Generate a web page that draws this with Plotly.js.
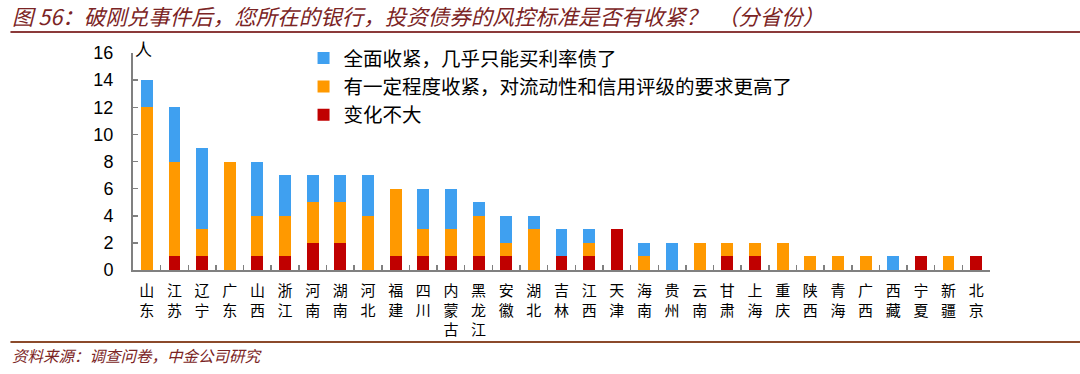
<!DOCTYPE html>
<html>
<head>
<meta charset="utf-8">
<script src="https://cdn.plot.ly/plotly-3.0.1.min.js"></script>
<style>
  html, body { margin: 0; padding: 0; background: #ffffff; }
  #chart { width: 1080px; height: 374px; }
</style>
</head>
<body>
<div id="chart"></div>
<script>
const provinces = ["山东","江苏","辽宁","广东","山西","浙江","河南","湖南","河北","福建","四川","内蒙古","黑龙江","安徽","湖北","吉林","江西","天津","海南","贵州","云南","甘肃","上海","重庆","陕西","青海","广西","西藏","宁夏","新疆","北京"];
const fullTight = [2,4,6,0,4,3,2,2,3,0,3,3,1,2,1,2,1,0,1,2,0,0,0,0,0,0,0,1,0,0,0];
const someTight = [12,7,2,8,3,3,3,3,4,5,2,2,3,1,3,0,1,0,1,0,2,1,1,2,1,1,1,0,0,1,0];
const noChange  = [0,1,1,0,1,1,2,2,0,1,1,1,1,1,0,1,1,3,0,0,0,1,1,0,0,0,0,0,1,0,1];
const seriesNames = ["全面收紧，几乎只能买利率债了", "有一定程度收紧，对流动性和信用评级的要求更高了", "变化不大"];
const yTicks = [0,2,4,6,8,10,12,14,16];

const tickText = provinces.map(p => Array.from(p).join("<br>"));
const cjk = "'Noto Sans CJK SC', 'Noto Sans', sans-serif";

const traces = [
  {type: "bar", name: seriesNames[2], x: provinces, y: noChange, marker: {color: "#C00000"}},
  {type: "bar", name: seriesNames[1], x: provinces, y: someTight, marker: {color: "#FF9900"}},
  {type: "bar", name: seriesNames[0], x: provinces, y: fullTight, marker: {color: "#3FA0F0"}}
];

const layout = {
  width: 1080, height: 374,
  margin: {l: 133, r: 90, t: 53, b: 104, pad: 0},
  paper_bgcolor: "#ffffff", plot_bgcolor: "#ffffff",
  barmode: "stack",
  bargap: 0.57,
  showlegend: true,
  legend: {
    x: 0.199, y: 1.065, xanchor: "left", yanchor: "top",
    traceorder: "reversed",
    font: {family: cjk, size: 19.5, color: "#000000"},
    bgcolor: "rgba(0,0,0,0)",
    tracegroupgap: 0
  },
  xaxis: {
    type: "category",
    tickmode: "array", tickvals: provinces, ticktext: tickText,
    tickfont: {family: cjk, size: 15, color: "#000000"},
    showline: true, linecolor: "#808080", linewidth: 2,
    ticks: "inside", ticklen: 5, tickcolor: "#808080", tickwidth: 1.5,
    tickson: "boundaries",
    ticklabelstandoff: 6,
    showgrid: false, zeroline: false,
    range: [-0.5, 30.5],
    fixedrange: true
  },
  yaxis: {
    range: [0, 16],
    tickmode: "array", tickvals: yTicks,
    tickfont: {family: "'Liberation Sans', Arial, sans-serif", size: 18, color: "#000000"},
    showline: true, linecolor: "#808080", linewidth: 2,
    ticks: "inside", ticklen: 5, tickcolor: "#808080", tickwidth: 1.5,
    ticklabelstandoff: 14,
    showgrid: false, zeroline: false,
    fixedrange: true
  },
  annotations: [
    {text: "图 56：破刚兑事件后，您所在的银行，投资债券的风控标准是否有收紧？  （分省份）",
     xref: "paper", yref: "paper", x: -0.143, y: 1.175, xanchor: "left", yanchor: "middle",
     showarrow: false,
     font: {family: cjk, size: 21.5, color: "#7B2424", style: "italic"}},
    {text: "人", xref: "paper", yref: "paper", x: 0.0, y: 1.02, xanchor: "left", yanchor: "middle",
     showarrow: false, font: {family: cjk, size: 17, color: "#000000"}},
    {text: "资料来源：调查问卷，中金公司研究",
     xref: "paper", yref: "paper", x: -0.143, y: -0.392, xanchor: "left", yanchor: "middle",
     showarrow: false, font: {family: cjk, size: 15.5, color: "#7B2424", style: "italic"}}
  ],
  shapes: [
    {type: "line", xref: "paper", yref: "paper", x0: -0.143, x1: 1.105, y0: 1.097, y1: 1.097,
     line: {color: "#8B3A3A", width: 2}},
    {type: "line", xref: "paper", yref: "paper", x0: -0.143, x1: 1.105, y0: -0.332, y1: -0.332,
     line: {color: "#8B4A2B", width: 2}}
  ]
};

Plotly.newPlot("chart", traces, layout, {displayModeBar: false, staticPlot: true});
</script>
</body>
</html>
